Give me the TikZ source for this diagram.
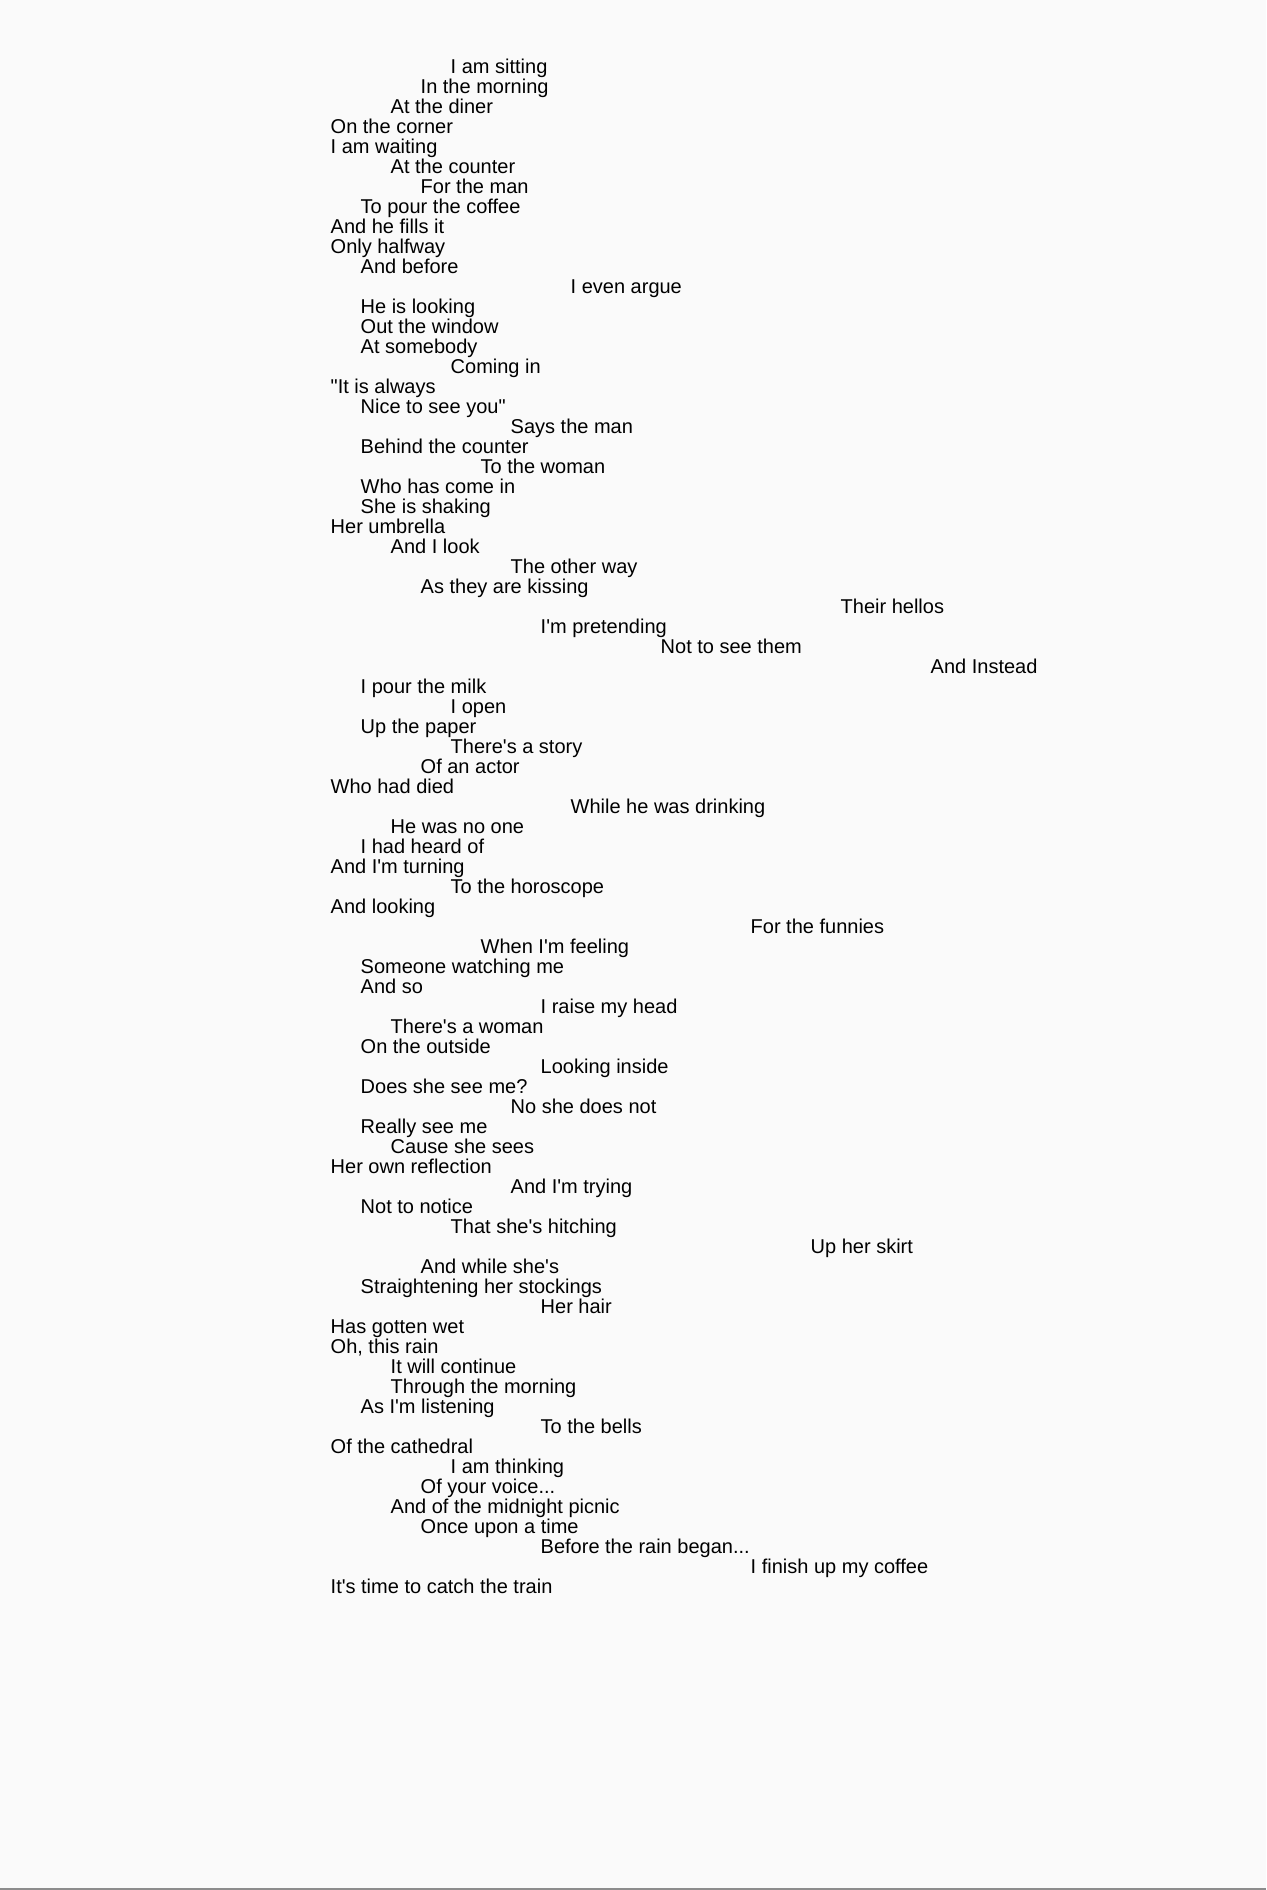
\documentclass[tikz,border=0pt]{standalone}
\usepackage{fontspec}
\newfontfamily\poemfont{Liberation Sans}
\definecolor{bgpage}{HTML}{FAFAFA}
\definecolor{edgegray}{HTML}{8C8C8C}
\newcommand\pline[3]{\node[pl] (l#1) at ({330.7+30*#2},{73.5+20*(#1-1)}) {#3};}
\begin{document}
\begin{tikzpicture}[x=0.5pt,y=-0.5pt,
  pl/.style={anchor=base west, inner sep=0pt, outer sep=0pt, text=black,
    font=\poemfont\fontsize{10pt}{10pt}\selectfont}]
\useasboundingbox (0,0) rectangle (1266,1890);
\fill[bgpage] (0,0) rectangle (1266,1890);
\fill[edgegray] (0,1888) rectangle (1266,1890);
\pline{1}{4}{I am sitting}
\pline{2}{3}{In the morning}
\pline{3}{2}{At the diner}
\pline{4}{0}{On the corner}
\pline{5}{0}{I am waiting}
\pline{6}{2}{At the counter}
\pline{7}{3}{For the man}
\pline{8}{1}{To pour the coffee}
\pline{9}{0}{And he fills it}
\pline{10}{0}{Only halfway}
\pline{11}{1}{And before}
\pline{12}{8}{I even argue}
\pline{13}{1}{He is looking}
\pline{14}{1}{Out the window}
\pline{15}{1}{At somebody}
\pline{16}{4}{Coming in}
\pline{17}{0}{"It is always}
\pline{18}{1}{Nice to see you"}
\pline{19}{6}{Says the man}
\pline{20}{1}{Behind the counter}
\pline{21}{5}{To the woman}
\pline{22}{1}{Who has come in}
\pline{23}{1}{She is shaking}
\pline{24}{0}{Her umbrella}
\pline{25}{2}{And I look}
\pline{26}{6}{The other way}
\pline{27}{3}{As they are kissing}
\pline{28}{17}{Their hellos}
\pline{29}{7}{I'm pretending}
\pline{30}{11}{Not to see them}
\pline{31}{20}{And Instead}
\pline{32}{1}{I pour the milk}
\pline{33}{4}{I open}
\pline{34}{1}{Up the paper}
\pline{35}{4}{There's a story}
\pline{36}{3}{Of an actor}
\pline{37}{0}{Who had died}
\pline{38}{8}{While he was drinking}
\pline{39}{2}{He was no one}
\pline{40}{1}{I had heard of}
\pline{41}{0}{And I'm turning}
\pline{42}{4}{To the horoscope}
\pline{43}{0}{And looking}
\pline{44}{14}{For the funnies}
\pline{45}{5}{When I'm feeling}
\pline{46}{1}{Someone watching me}
\pline{47}{1}{And so}
\pline{48}{7}{I raise my head}
\pline{49}{2}{There's a woman}
\pline{50}{1}{On the outside}
\pline{51}{7}{Looking inside}
\pline{52}{1}{Does she see me?}
\pline{53}{6}{No she does not}
\pline{54}{1}{Really see me}
\pline{55}{2}{Cause she sees}
\pline{56}{0}{Her own reflection}
\pline{57}{6}{And I'm trying}
\pline{58}{1}{Not to notice}
\pline{59}{4}{That she's hitching}
\pline{60}{16}{Up her skirt}
\pline{61}{3}{And while she's}
\pline{62}{1}{Straightening her stockings}
\pline{63}{7}{Her hair}
\pline{64}{0}{Has gotten wet}
\pline{65}{0}{Oh, this rain}
\pline{66}{2}{It will continue}
\pline{67}{2}{Through the morning}
\pline{68}{1}{As I'm listening}
\pline{69}{7}{To the bells}
\pline{70}{0}{Of the cathedral}
\pline{71}{4}{I am thinking}
\pline{72}{3}{Of your voice...}
\pline{73}{2}{And of the midnight picnic}
\pline{74}{3}{Once upon a time}
\pline{75}{7}{Before the rain began...}
\pline{76}{14}{I finish up my coffee}
\pline{77}{0}{It's time to catch the train}
\end{tikzpicture}
\end{document}
